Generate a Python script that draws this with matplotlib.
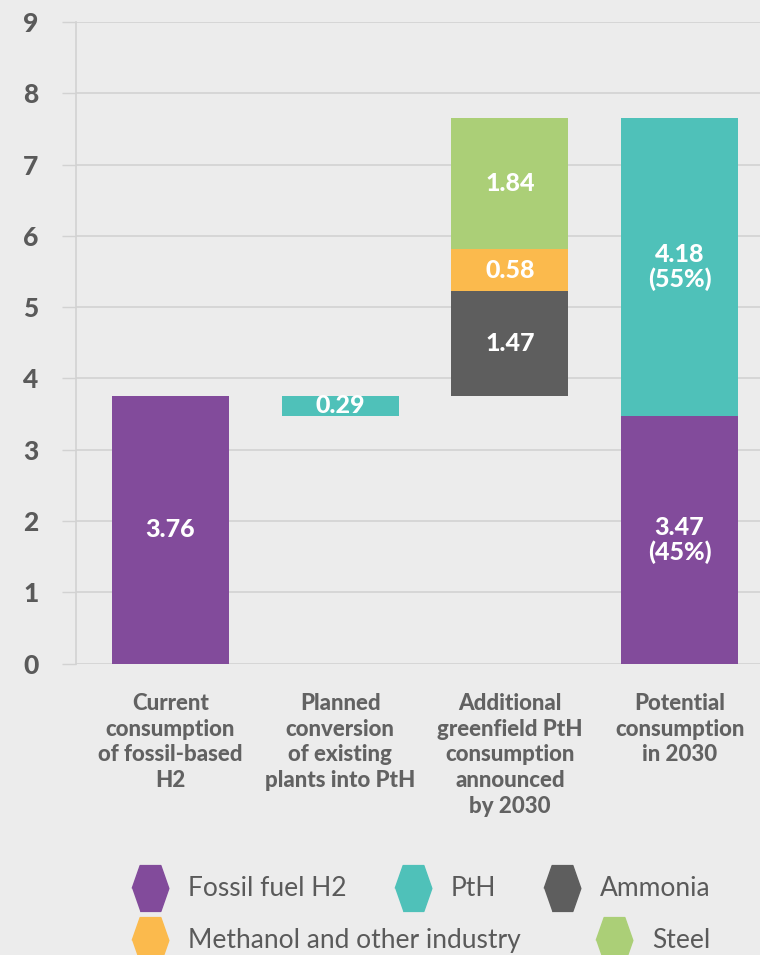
import numpy as np
import matplotlib.pyplot as plt
from matplotlib.lines import Line2D

# data
categories = ["Current\nconsumption\nof fossil-based\nH2",
              "Planned\nconversion\nof existing\nplants into PtH",
              "Additional\ngreenfield PtH\nconsumption\nannounced\nby 2030",
              "Potential\nconsumption\nin 2030"]
fossil_current = 3.76
pth_conversion = 0.29
ammonia = 1.47
methanol = 0.58
steel = 1.84
fossil_2030 = 3.47
pth_2030 = 4.18
share_fossil = 45
share_pth = 55
yticks = list(range(0, 10))

legend_labels = ["Fossil fuel H2", "PtH", "Ammonia", "Methanol and other industry", "Steel"]

c_fossil = "#824b9b"
c_pth = "#4fc1b9"
c_amm = "#5e5e5e"
c_meth = "#fbba4d"
c_steel = "#abcf77"
bg = "#ececec"
grid_c = "#d2d2d2"
txt_c = "#5a5a5a"

plt.rcParams['font.family'] = ['Lato', 'DejaVu Sans']
HEAVY = "black"

fig = plt.figure(figsize=(7.6, 9.55), dpi=100, facecolor=bg)
ax = fig.add_axes([0.1, 0.305, 0.9, 0.672], facecolor=bg)

x = np.arange(len(categories))
w = 0.69

lbl = dict(ha="center", va="center", color="white", fontsize=18, fontweight=HEAVY)

# bar 1: current fossil
ax.bar(x[0], fossil_current, w, color=c_fossil)
# bar 2: conversion, floating down from the top of bar 1
ax.bar(x[1], pth_conversion, w, bottom=fossil_current - pth_conversion, color=c_pth)
# bar 3: greenfield stacked on top of current
b = fossil_current
for val, col in [(ammonia, c_amm), (methanol, c_meth), (steel, c_steel)]:
    ax.bar(x[2], val, w, bottom=b, color=col)
    ax.text(x[2], b + val / 2, f"{val:.2f}", **lbl)
    b += val
# bar 4: potential 2030
ax.bar(x[3], fossil_2030, w, color=c_fossil)
ax.bar(x[3], pth_2030, w, bottom=fossil_2030, color=c_pth)

ax.text(x[0], fossil_current / 2, f"{fossil_current:.2f}", **lbl)
ax.text(x[1], fossil_current - pth_conversion / 2, f"{pth_conversion:.2f}", **lbl)
ax.text(x[3], fossil_2030 / 2, f"{fossil_2030:.2f}\n({share_fossil}%)", linespacing=1.05, **lbl)
ax.text(x[3], fossil_2030 + pth_2030 / 2, f"{pth_2030:.2f}\n({share_pth}%)", linespacing=1.05, **lbl)

ax.set_ylim(0, 9)
ax.set_xlim(-0.557, 3.474)
ax.set_yticks(yticks)
ax.set_yticklabels([str(t) for t in yticks], fontsize=19, fontweight=HEAVY, color=txt_c)
ax.tick_params(axis="y", length=10, width=1, color=grid_c, pad=17)
ax.grid(axis="y", color=grid_c, lw=1.2)
ax.set_axisbelow(True)
ax.set_xticks(x)
ax.set_xticklabels(categories, fontsize=16, fontweight=HEAVY, color="#626262",
                   linespacing=1.28, va="top")
ax.tick_params(axis="x", length=0, pad=21)
for s in ["top", "right", "bottom"]:
    ax.spines[s].set_visible(False)
ax.spines["left"].set_color(grid_c)
ax.spines["left"].set_linewidth(1.2)

# legend (flowing layout as in source)
hexv = [(-0.8, 0), (-0.45, 1), (0.45, 1), (0.8, 0), (0.45, -1), (-0.45, -1)]
legend_colors = [c_fossil, c_pth, c_amm, c_meth, c_steel]
legend_pos = [(150, 888), (413, 888), (562, 888), (150, 940), (614, 940)]
for lab, col, (px, py) in zip(legend_labels, legend_colors, legend_pos):
    fx, fy = px / 760, 1 - py / 955
    fig.add_artist(Line2D([fx], [fy], marker=hexv, markersize=33, color=col,
                          linestyle="none", transform=fig.transFigure))
    fig.text(fx + 38 / 760, fy, lab, ha="left", va="center", fontsize=19, color=txt_c)

fig.savefig("out.png", dpi=100, facecolor=bg)
